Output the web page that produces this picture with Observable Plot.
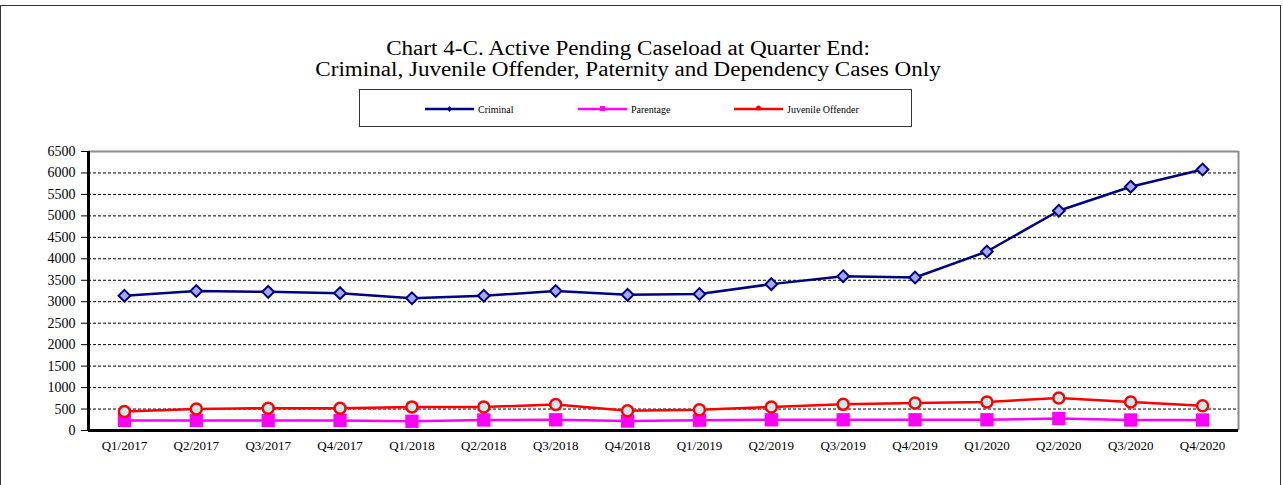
<!DOCTYPE html>
<html><head><meta charset="utf-8">
<script src="https://cdn.jsdelivr.net/npm/d3@7"></script>
<script src="https://cdn.jsdelivr.net/npm/@observablehq/plot@0.6"></script>
<style>
body{margin:0;background:#fff;font-family:'Liberation Serif','Times New Roman',serif;}
#wrap{position:relative;width:1283px;height:485px;overflow:hidden;background:#fff;}
#chart{position:absolute;left:0;top:0;}
#chart svg text{font-family:'Liberation Serif','Times New Roman',serif;}
#border{position:absolute;left:0;top:5px;width:1279px;height:520px;border:1.5px solid #333;pointer-events:none;}
#title{position:absolute;left:0;width:1256px;top:38px;text-align:center;font-size:20px;line-height:21px;color:#000;transform:scaleX(1.155);transform-origin:628px 0;}
#legend{position:absolute;left:359px;top:89px;width:551px;height:36px;border:1px solid #333;}
#legsvg{position:absolute;left:0;top:0;}
</style></head>
<body>
<div id="wrap">
  <div id="chart"></div>
  <div id="title">Chart 4-C. Active Pending Caseload at Quarter End:<br>Criminal, Juvenile Offender, Paternity and Dependency Cases Only</div>
  <div id="legend"></div>
  <div id="border"></div>
</div>
<script>
const quarters = ["Q1/2017","Q2/2017","Q3/2017","Q4/2017","Q1/2018","Q2/2018","Q3/2018","Q4/2018",
                  "Q1/2019","Q2/2019","Q3/2019","Q4/2019","Q1/2020","Q2/2020","Q3/2020","Q4/2020"];
const criminal  = [3140,3250,3230,3200,3080,3140,3250,3160,3180,3410,3595,3565,4170,5120,5680,6080];
const parentage = [235,235,235,235,215,245,250,220,240,250,250,250,250,280,245,245];
const juvenile  = [445,500,520,520,550,548,605,460,484,547,609,640,664,758,664,578];
const yTicks = [0,500,1000,1500,2000,2500,3000,3500,4000,4500,5000,5500,6000,6500];
const seriesNames = ["Criminal","Parentage","Juvenile Offender"];

const rows = s => quarters.map((q, i) => ({i, q, v: s[i]}));
const serif = "'Liberation Serif', 'Times New Roman', serif";

const chart = Plot.plot({
  width: 1283, height: 485,
  marginLeft: 88, marginRight: 45, marginTop: 151, marginBottom: 55,
  style: {fontFamily: serif, fontSize: "13px", background: "transparent", color: "black"},
  x: {type: "linear", domain: [-0.5, 15.5]},
  y: {domain: [0, 6500]},
  marks: [
    Plot.ruleY(yTicks.filter(d => d > 0 && d < 6500), {stroke: "black", strokeDasharray: "3,2", strokeWidth: 1}),
    Plot.ruleY([6500], {stroke: "#8c8c8c", strokeWidth: 2}),
    Plot.ruleX([15.5], {stroke: "#8c8c8c", strokeWidth: 2}),
    Plot.axisY({ticks: yTicks, tickSize: 7, tickPadding: 6, tickFormat: d => String(d), fontSize: 14, fontFamily: serif, label: null}),
    Plot.axisX({ticks: d3.range(quarters.length), tickSize: 0, tickPadding: 10, tickFormat: i => quarters[i], fontSize: 13, fontFamily: serif, label: null}),
    Plot.ruleX([-0.5], {stroke: "black", strokeWidth: 3}),
    Plot.ruleY([0], {stroke: "black", strokeWidth: 3}),
    Plot.line(rows(criminal), {x: "i", y: "v", stroke: "#000080", strokeWidth: 2.5}),
    Plot.dot(rows(criminal), {x: "i", y: "v", symbol: "diamond2", r: 5.3, fill: "#a3a8f5", stroke: "#000080", strokeWidth: 2}),
    Plot.line(rows(parentage), {x: "i", y: "v", stroke: "#ff00ff", strokeWidth: 2.5}),
    Plot.dot(rows(parentage), {x: "i", y: "v", symbol: "square", r: 7.5, fill: "#ff00ff"}),
    Plot.line(rows(juvenile), {x: "i", y: "v", stroke: "#ff0000", strokeWidth: 2.5}),
    Plot.dot(rows(juvenile), {x: "i", y: "v", r: 5.5, fill: "#c6eeee", stroke: "#ff0000", strokeWidth: 2.5})
  ]
});
document.getElementById("chart").appendChild(chart);

// legend
const leg = d3.select("#legend").append("svg").attr("id", "legsvg").attr("width", 551).attr("height", 36);
const legItems = [
  {name: seriesNames[0], color: "#000080", x: 65, sym: "diamond"},
  {name: seriesNames[1], color: "#ff00ff", x: 218, sym: "square"},
  {name: seriesNames[2], color: "#ff0000", x: 374, sym: "circle"}
];
legItems.forEach(it => {
  const g = leg.append("g").attr("transform", `translate(${it.x},19)`);
  g.append("line").attr("x1", 0).attr("x2", 49).attr("stroke", it.color).attr("stroke-width", 2.5);
  if (it.sym === "diamond") g.append("path").attr("d", "M24.5,-3L27,0L24.5,3L22,0Z").attr("fill", it.color);
  if (it.sym === "square") g.append("rect").attr("x", 22).attr("y", -3).attr("width", 5).attr("height", 5).attr("fill", it.color);
  if (it.sym === "circle") g.append("circle").attr("cx", 24.5).attr("cy", -1).attr("r", 2.5).attr("fill", it.color);
  g.append("text").attr("x", 53).attr("y", 3.5).attr("font-size", 10).attr("font-family", serif).text(it.name);
});
</script>
</body></html>
